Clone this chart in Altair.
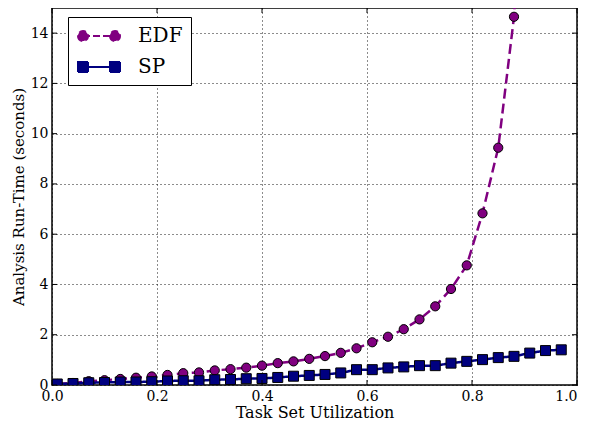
import altair as alt
import pandas as pd

utilization = [0.01, 0.04, 0.07, 0.10, 0.13, 0.16, 0.19, 0.22, 0.25, 0.28,
               0.31, 0.34, 0.37, 0.40, 0.43, 0.46, 0.49, 0.52, 0.55, 0.58,
               0.61, 0.64, 0.67, 0.70, 0.73, 0.76, 0.79, 0.82, 0.85, 0.88,
               0.91, 0.94, 0.97]
edf_runtime = [0.04, 0.08, 0.15, 0.19, 0.24, 0.29, 0.34, 0.40, 0.47, 0.50,
               0.58, 0.63, 0.69, 0.77, 0.87, 0.94, 1.04, 1.15, 1.28, 1.46,
               1.70, 1.92, 2.22, 2.61, 3.13, 3.82, 4.76, 6.83, 9.44, 14.65,
               24.0]
sp_runtime = [0.04, 0.06, 0.09, 0.10, 0.12, 0.12, 0.13, 0.16, 0.17, 0.17,
              0.21, 0.22, 0.25, 0.26, 0.30, 0.35, 0.38, 0.42, 0.48, 0.61,
              0.61, 0.68, 0.72, 0.77, 0.77, 0.87, 0.94, 1.01, 1.09, 1.14,
              1.27, 1.37, 1.40]
series_names = ["EDF", "SP"]
series_colors = ["#800080", "#000080"]
series_dash = [[10, 5], [1, 0]]
x_ticks = [0.0, 0.2, 0.4, 0.6, 0.8, 1.0]
y_ticks = [0, 2, 4, 6, 8, 10, 12, 14]

rows = []
for i, v in enumerate(edf_runtime):
    rows.append({"u": utilization[i], "t": v, "series": "EDF"})
for i, v in enumerate(sp_runtime):
    rows.append({"u": utilization[i], "t": v, "series": "SP"})
df = pd.DataFrame(rows)

W, H = 525, 377
FONT = "DejaVu Serif"

xscale = alt.Scale(domain=[0, 1], nice=False, zero=False)
yscale = alt.Scale(domain=[0, 15], nice=False)

# legend glyphs: marker - line - marker (unit = 10 px at symbol size 400)
circ_path = ("M-0.4,0L2.8,0"
             "M-0.9,0a0.5,0.5 0 1,0 1,0a0.5,0.5 0 1,0 -1,0Z"
             "M2.3,0a0.5,0.5 0 1,0 1,0a0.5,0.5 0 1,0 -1,0Z")
sq_path = ("M-0.4,0L2.8,0"
           "M-0.9,-0.5h1v1h-1Z"
           "M2.3,-0.5h1v1h-1Z")

legend = alt.Legend(
    title=None, orient="none", legendX=16, legendY=9,
    fillColor="white", strokeColor="black", padding=8,
    cornerRadius=0, labelFont=FONT, labelFontSize=20, labelColor="black",
    labelOffset=40, rowPadding=10, symbolSize=400, symbolStrokeWidth=2,
    symbolOpacity=1,
)

x_enc = alt.X("u:Q", scale=xscale, title="Task Set Utilization",
              axis=alt.Axis(values=x_ticks, format=".1f", grid=True, ticks=False,
                            domain=False, labelPadding=4, titlePadding=1,
                            labelAlign=alt.expr("datum.value >= 1 ? 'right' : 'center'")))
y_enc = alt.Y("t:Q", scale=yscale, title="Analysis Run-Time (seconds)",
              axis=alt.Axis(values=y_ticks, format="d", grid=True, ticks=False,
                            domain=False, labelPadding=4, titlePadding=4))

layers = []
for k, name in enumerate(series_names):
    sub = alt.Chart(df).transform_filter(alt.datum.series == name)
    layers.append(sub.mark_line(strokeWidth=2.5, clip=True, stroke=series_colors[k],
                                strokeDash=series_dash[k]).encode(
        x=x_enc if k == 0 else alt.X("u:Q", scale=xscale),
        y=y_enc if k == 0 else alt.Y("t:Q", scale=yscale)))
for k, name in enumerate(series_names):
    sub = alt.Chart(df).transform_filter(alt.datum.series == name)
    layers.append(sub.mark_point(
        filled=True, fill=series_colors[k], stroke="black", strokeWidth=1,
        opacity=1, clip=True,
        shape=["circle", "square"][k], size=[85, 100][k],
    ).encode(x=alt.X("u:Q", scale=xscale), y=alt.Y("t:Q", scale=yscale)))

xt = pd.DataFrame({"v": x_ticks})
yt = pd.DataFrame({"v": y_ticks})
tick_len = 5
layers.append(alt.Chart(xt).mark_rule(color="black", strokeWidth=1).encode(
    x=alt.X("v:Q", scale=xscale), y=alt.value(H), y2=alt.value(H - tick_len)))
layers.append(alt.Chart(xt).mark_rule(color="black", strokeWidth=1).encode(
    x=alt.X("v:Q", scale=xscale), y=alt.value(0), y2=alt.value(tick_len)))
layers.append(alt.Chart(yt).mark_rule(color="black", strokeWidth=1).encode(
    y=alt.Y("v:Q", scale=yscale), x=alt.value(0), x2=alt.value(tick_len)))
layers.append(alt.Chart(yt).mark_rule(color="black", strokeWidth=1).encode(
    y=alt.Y("v:Q", scale=yscale), x=alt.value(W), x2=alt.value(W - tick_len)))

cscale = alt.Scale(domain=series_names, range=series_colors)
leg = alt.Chart(df).transform_filter("false").mark_point(filled=True, size=400).encode(
    x=alt.X("u:Q", scale=xscale),
    y=alt.Y("t:Q", scale=yscale),
    shape=alt.Shape("series:N", scale=alt.Scale(domain=series_names, range=[circ_path, sq_path]),
                    legend=legend),
    fill=alt.Fill("series:N", scale=cscale, legend=legend),
    stroke=alt.Stroke("series:N", scale=cscale, legend=legend),
    strokeDash=alt.StrokeDash("series:N", scale=alt.Scale(domain=series_names, range=[[7, 3], [1, 0]]),
                              legend=legend),
)
layers.append(leg)

chart = alt.layer(*layers).properties(
    width=W, height=H,
    autosize=alt.AutoSizeParams(type="none"),
    padding={"left": 44, "top": 0, "right": 4, "bottom": 35},
    background="white",
).configure_view(
    stroke="black", strokeWidth=1.5
).configure_axis(
    labelFont=FONT, labelFontSize=14, labelColor="black",
    titleFont=FONT, titleFontSize=16, titleColor="black", titleFontWeight="normal",
    gridColor="black", gridDash=[1, 3], gridWidth=1, gridOpacity=0.9,
    labelOverlap=False, labelBound=False, labelFlush=False,
).configure_axisY(
    titleFontSize=15,
)

chart.save("out.html", embed_options={"renderer": "svg", "actions": False})
